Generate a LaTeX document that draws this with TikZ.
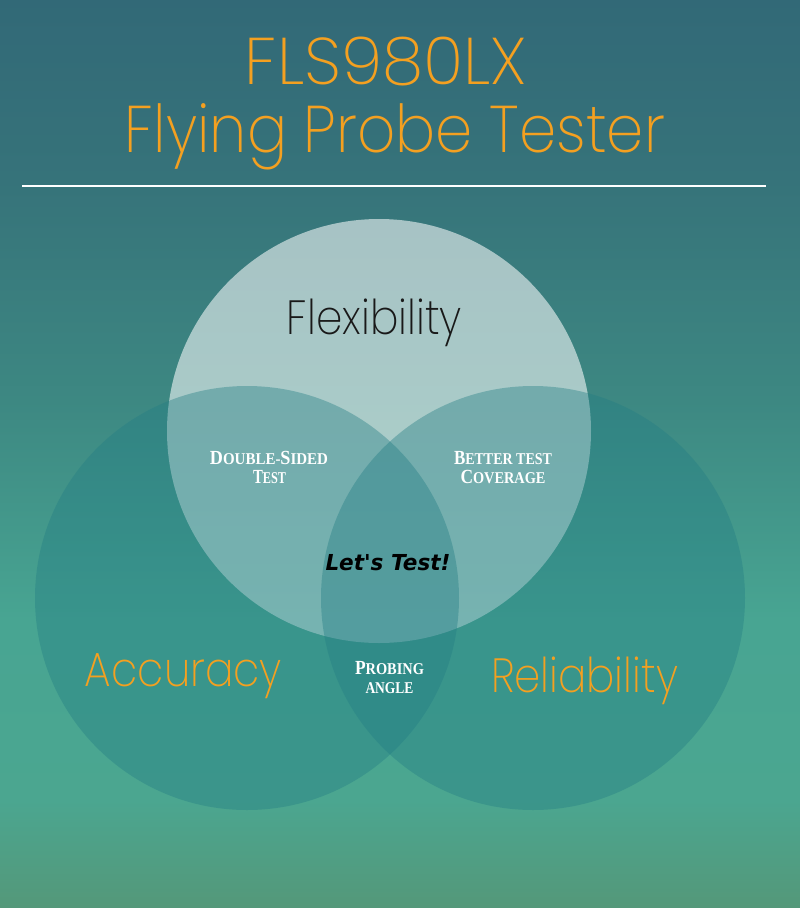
\documentclass[tikz,border=0pt]{standalone}
\usepackage{fontspec}
\usepackage{graphicx}
\newfontfamily\pthin{Poppins ExtraLight}
\newfontfamily\lbf{Liberation Serif Bold}
\newfontfamily\letsf{DejaVu Sans Bold Oblique}
\definecolor{orangeT}{RGB}{244,160,32}
\definecolor{sidec}{RGB}{35,125,132}
\pgfdeclareverticalshading{bgshade}{100bp}{%
  rgb(0bp)=(0.329,0.596,0.475);
  rgb(25bp)=(0.329,0.596,0.475);
  rgb(30.95bp)=(0.294,0.651,0.565);
  rgb(40.86bp)=(0.282,0.647,0.573);
  rgb(52.97bp)=(0.239,0.533,0.510);
  rgb(65.09bp)=(0.212,0.451,0.478);
  rgb(75bp)=(0.196,0.412,0.467);
  rgb(100bp)=(0.196,0.412,0.467)}
\newcommand\fsc[2]{{\fontsize{20}{22}\selectfont #1}{\fontsize{16.5}{20}\selectfont #2}}
\tikzset{
  ttl/.style={text=orangeT, font=\pthin\fontsize{66}{80}\selectfont, anchor=base, inner sep=0pt},
  bigw/.style={font=\pthin\fontsize{48}{60}\selectfont, anchor=base, inner sep=0pt},
  lab/.style={text=white, font=\lbf, anchor=base, inner sep=0pt},
  topc/.style={fill=white, fill opacity=0.56},
  sidecirc/.style={fill=sidec, fill opacity=0.4},
}
\begin{document}
\begin{tikzpicture}[x=1pt,y=-1pt]
\useasboundingbox (0,0) rectangle (800,908);
\fill[shading=bgshade] (0,0) rectangle (800,908);
% title
\node[ttl] (t1) at (386,84) {\resizebox{282pt}{\height}{FLS980LX}};
\node[ttl] (t2) at (395,152) {\resizebox{540pt}{\height}{Flying Probe Tester}};
\coordinate (la) at (22,186);
\coordinate (lb) at (766,186);
\draw[white, line width=2pt] (la) -- (lb);
% circles
\fill[topc] (379,431) circle[radius=212];
\fill[sidecirc] (247,598) circle[radius=212];
\fill[sidecirc] (533,598) circle[radius=212];
% big words
\node[bigw, text=black!90] (flex) at (374.5,334) {\resizebox{175pt}{\height}{Flexibility}};
\node[bigw, text=orangeT] (acc) at (183.5,686) {\resizebox{197pt}{\height}{Accuracy}};
\node[bigw, text=orangeT] (rel) at (584.5,692) {\resizebox{187pt}{\height}{Reliability}};
% small labels
\node[lab] (ds1) at (269,464) {\resizebox{118pt}{\height}{\fsc{D}{OUBLE-}\fsc{S}{IDED}}};
\node[lab] (ds2) at (269.5,483.5) {\resizebox{33pt}{\height}{\fsc{T}{EST}}};
\node[lab] (bt1) at (503,464) {\resizebox{98pt}{\height}{\fsc{B}{ETTER TEST}}};
\node[lab] (bt2) at (503,483.5) {\resizebox{85pt}{\height}{\fsc{C}{OVERAGE}}};
\node[lab] (pr1) at (389.5,674) {\resizebox{69pt}{\height}{\fsc{P}{ROBING}}};
\node[lab] (pr2) at (389.5,693) {\resizebox{48pt}{\height}{{\fontsize{16.5}{20}\selectfont ANGLE}}};
\node[anchor=base, inner sep=0pt, font=\letsf\fontsize{22}{24}\selectfont, text=black] (lt) at (388,570.5) {\resizebox{125pt}{\height}{Let's Test!}};
\end{tikzpicture}
\end{document}
